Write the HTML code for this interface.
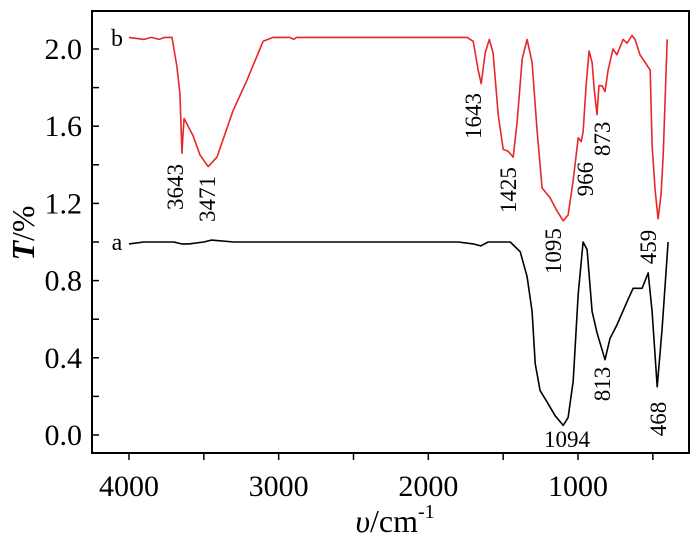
<!DOCTYPE html>
<html><head><meta charset="utf-8"><style>
html,body{margin:0;padding:0;background:#fff;}
svg{display:block;}
text{font-family:"Liberation Serif",serif;fill:#000;}
</style></head><body>
<svg id="chart" width="700" height="543" viewBox="0 0 700 543" xmlns="http://www.w3.org/2000/svg">
<g id="axes"></g>
<g id="series"></g>
<g id="labels"></g>
</svg>
<script>
const xTicksMajor = [4000, 3000, 2000, 1000];
const xTicksMinor = [4000, 3500, 3000, 2500, 2000, 1500, 1000, 500];
const yTicksMajor = [0.0, 0.4, 0.8, 1.2, 1.6, 2.0];
const yTickLabels = ["0.0", "0.4", "0.8", "1.2", "1.6", "2.0"];
const yTicksMinor = [0, 0.2, 0.4, 0.6, 0.8, 1.0, 1.2, 1.4, 1.6, 1.8, 2.0];

const waveB = [4000,3900,3850,3800,3760,3713,3680,3660,3646,3640,3632,3572,3525,3471,3412,3305,3211,3104,3037,2924,2900,2880,2500,2000,1800,1741,1700,1667,1647,1620,1593,1567,1533,1500,1467,1433,1407,1373,1340,1307,1273,1240,1187,1140,1099,1066,1032,999,979,966,946,926,906,892,873,860,840,820,799,766,740,699,673,639,619,586,551,518,505,485,465,445,431,404];
const transB = [2.06,2.05,2.06,2.05,2.06,2.06,1.91,1.77,1.46,1.55,1.64,1.55,1.45,1.39,1.44,1.68,1.84,2.04,2.06,2.06,2.05,2.06,2.06,2.06,2.06,2.06,2.04,1.89,1.82,1.98,2.05,1.98,1.66,1.48,1.47,1.44,1.62,1.95,2.05,1.93,1.57,1.28,1.23,1.16,1.11,1.14,1.32,1.54,1.52,1.57,1.81,1.99,1.93,1.79,1.66,1.81,1.81,1.78,1.89,2.0,1.97,2.05,2.03,2.07,2.05,1.97,1.93,1.89,1.5,1.27,1.12,1.25,1.45,2.05];

const waveA = [4000,3900,3800,3700,3650,3600,3500,3450,3300,3000,2500,2000,1800,1700,1650,1600,1453,1386,1340,1307,1286,1253,1206,1153,1099,1066,1032,999,966,939,906,873,820,786,740,673,632,572,531,505,471,438,398];
const transA = [0.99,1.0,1.0,1.0,0.99,0.99,1.0,1.01,1.0,1.0,1.0,1.0,1.0,0.99,0.98,1.0,1.0,0.95,0.82,0.64,0.37,0.23,0.17,0.10,0.05,0.09,0.28,0.73,1.0,0.96,0.64,0.53,0.39,0.50,0.57,0.69,0.76,0.76,0.84,0.64,0.25,0.55,1.0];

const peakLabels = ["3643","3471","1643","1425","1095","966","873","459","813","468"];
const labelWave = [3639,3425,1648,1414,1114,900,786,479,786,412];
const labelT = [1.285,1.223,1.653,1.269,0.953,1.326,1.534,0.974,0.264,0.083];

const NS = "http://www.w3.org/2000/svg";
const L = 92, R = 689, T = 11, B = 453;
function xs(w){ return 129 + (4000 - w) * 0.14967; }
function ys(v){ return 435 - v * 193; }
function mk(tag, attrs, parent){ const e = document.createElementNS(NS, tag); for (const k in attrs) e.setAttribute(k, attrs[k]); parent.appendChild(e); return e; }

const axes = document.getElementById('axes');
const frame = mk('rect', {x:L, y:T, width:R-L, height:B-T, fill:'none', stroke:'#000', 'stroke-width':2}, axes);



yTicksMinor.forEach(v => {
  const t = mk('line', {x1:L, x2:L+7, y1:ys(v), y2:ys(v), stroke:'#000', 'stroke-width':1.5}, axes);
  
  
});
yTicksMajor.forEach((v, i) => {
  const t = mk('text', {x:82, y:ys(v)+10, 'font-size':30, 'text-anchor':'end'}, axes);
  t.textContent = yTickLabels[i];
  
  
});
xTicksMinor.forEach(w => {
  const t = mk('line', {x1:xs(w), x2:xs(w), y1:B, y2:B+7, stroke:'#000', 'stroke-width':1.5}, axes);
  
  
});
xTicksMajor.forEach(w => {
  const t = mk('text', {x:xs(w), y:496, 'font-size':30, 'text-anchor':'middle'}, axes);
  t.textContent = String(w);
  
  
});
const xt = mk('text', {x:395, y:532, 'font-size':32, 'text-anchor':'middle'}, axes);
xt.innerHTML = '<tspan font-style="italic">υ</tspan>/cm<tspan font-size="20" dy="-14">-1</tspan>';


const yt = mk('text', {x:0, y:0, 'font-size':32, 'text-anchor':'middle', transform:'translate(34,233) rotate(-90)'}, axes);
yt.innerHTML = '<tspan font-style="italic" font-weight="bold">T</tspan>/%';



const series = document.getElementById('series');
function line(wv, tv, color, name){
  const d = wv.map((w, i) => (i ? 'L' : 'M') + xs(w).toFixed(1) + ' ' + ys(tv[i]).toFixed(1)).join(' ');
  const p = mk('path', {d:d, fill:'none', stroke:color, 'stroke-width':1.6, 'stroke-linejoin':'round'}, series);
  
  
}
line(waveB, transB, '#e8262a', 'series-b-line');
line(waveA, transA, '#000', 'series-a-line');

const lb = mk('text', {x:117, y:46, 'font-size':24, 'text-anchor':'middle'}, series);
lb.textContent = 'b';


const la = mk('text', {x:117, y:250, 'font-size':24, 'text-anchor':'middle'}, series);
la.textContent = 'a';



const labels = document.getElementById('labels');
peakLabels.forEach((s, i) => {
  const cx = xs(labelWave[i]), cy = ys(labelT[i]);
  const t = mk('text', {x:0, y:0, 'font-size':23, 'text-anchor':'middle', transform:'translate(' + cx.toFixed(1) + ',' + cy.toFixed(1) + ') rotate(-90)'}, labels);
  t.textContent = s;
  
  
});
const l1094 = mk('text', {x:xs(1094)+3, y:447, 'font-size':23, 'text-anchor':'middle'}, labels);
l1094.textContent = '1094';


</script>
</body></html>
